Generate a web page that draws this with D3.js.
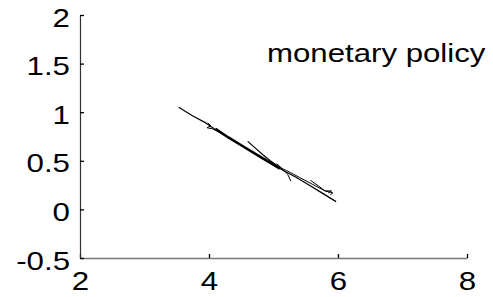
<!DOCTYPE html>
<html>
<head>
<meta charset="utf-8">
<script src="https://cdn.jsdelivr.net/npm/d3@7"></script>
<style>
  body { margin: 0; background: #fff; }
  svg { display: block; }
  text { font-family: "Liberation Sans", Arial, sans-serif; fill: #000; }
</style>
</head>
<body>
<svg id="chart" width="493" height="297"></svg>
<script>
// tick labels
const xTicks = [2, 4, 6, 8];
const yTicks = [-0.5, 0, 0.5, 1, 1.5, 2];
const title = "monetary policy";

// trajectories
const path1X = [3.53, 3.75, 3.95, 4.15, 4.35, 4.55, 4.75, 4.95, 5.15, 5.35, 5.55, 5.75, 5.97];
const path1Y = [1.05, 0.96, 0.89, 0.80, 0.72, 0.64, 0.56, 0.48, 0.40, 0.33, 0.25, 0.17, 0.08];
const path2X = [3.98, 4.03, 3.97, 4.05, 4.20, 4.40, 4.60, 4.80, 5.00, 5.20, 5.40, 5.60, 5.80, 5.92, 5.88];
const path2Y = [0.89, 0.86, 0.84, 0.83, 0.78, 0.70, 0.62, 0.53, 0.46, 0.40, 0.33, 0.26, 0.19, 0.17, 0.15];
const path3X = [4.60, 4.72, 4.84, 4.95, 5.10];
const path3Y = [0.70, 0.63, 0.56, 0.50, 0.43];
const path4X = [5.57, 5.70, 5.80, 5.90, 5.85];
const path4Y = [0.30, 0.24, 0.19, 0.19, 0.17];
const path5X = [5.05, 5.15, 5.22, 5.27];
const path5Y = [0.47, 0.41, 0.36, 0.29];
const path6X = [4.10, 4.30, 4.50, 4.70, 4.90, 5.10];
const path6Y = [0.83, 0.74, 0.66, 0.58, 0.50, 0.42];

const paths = [
  {x: path1X, y: path1Y, w: 1.2},
  {x: path2X, y: path2Y, w: 1},
  {x: path3X, y: path3Y, w: 1.2},
  {x: path4X, y: path4Y, w: 1},
  {x: path5X, y: path5Y, w: 1},
  {x: path6X, y: path6Y, w: 2.6}
];

const svg = d3.select("#chart");

const xScale = d3.scaleLinear().domain([2, 8]).range([80, 467]);
const yScale = d3.scaleLinear().domain([-0.5, 2]).range([258, 15]);

const line = d3.line()
  .x(d => xScale(d[0]))
  .y(d => yScale(d[1]));

svg.selectAll("path.traj")
   .data(paths)
   .enter()
   .append("path")
   .attr("class", "traj")
   .attr("d", p => line(p.x.map((v, i) => [v, p.y[i]])))
   .attr("fill", "none")
   .attr("stroke", "#000")
   .attr("stroke-width", p => p.w)
   .attr("stroke-linejoin", "round");

// axes, matlab style: ticks inward, no box
const xAxis = svg.append("g")
   .attr("class", "x-axis")
   .attr("transform", "translate(0," + 258 + ")")
   .call(d3.axisBottom(xScale).tickValues(xTicks).tickSizeInner(-4).tickSizeOuter(0).tickFormat(d3.format("d")));

const yAxis = svg.append("g")
   .attr("class", "y-axis")
   .attr("transform", "translate(80,0)")
   .call(d3.axisLeft(yScale).tickValues(yTicks).tickSizeInner(-4).tickSizeOuter(0).tickFormat(d => d));

xAxis.select(".domain").attr("stroke", "#777").attr("stroke-width", 1.3);
yAxis.select(".domain").attr("stroke", "#333").attr("stroke-width", 1.2);
svg.selectAll(".tick line").attr("stroke", "#000").attr("stroke-width", 1.3);

xAxis.selectAll(".tick text")
   .attr("y", 0).attr("dy", 0)
   .attr("font-size", 25)
   .attr("transform", "translate(0,32) scale(1.25,1)");

yAxis.selectAll(".tick text")
   .attr("x", 0).attr("dy", 0)
   .attr("font-size", 25)
   .attr("transform", "translate(-10,11) scale(1.25,1)");

svg.append("text")
   .attr("transform", "translate(267,62) scale(1.2,1)")
   .attr("font-size", 26)
   .text(title);
</script>
</body>
</html>
